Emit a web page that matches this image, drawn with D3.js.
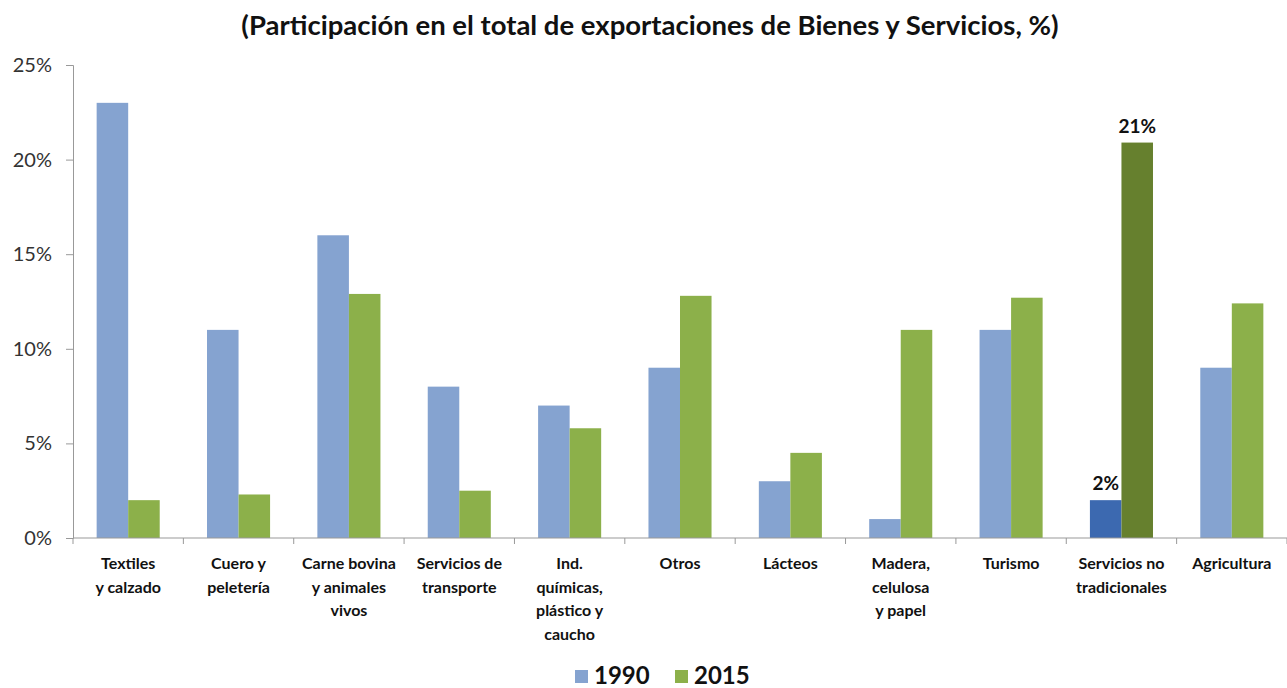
<!DOCTYPE html>
<html>
<head>
<meta charset="utf-8">
<script src="https://cdn.jsdelivr.net/npm/d3@7"></script>
<style>
  body { margin: 0; background: #fff; }
  svg { display: block; font-family: Lato, "Open Sans", sans-serif; }
</style>
</head>
<body>
<div id="chart"></div>
<script>
// Participación en exportaciones, 1990 vs 2015
const categories = [
  ["Textiles", "y calzado"],
  ["Cuero y", "peletería"],
  ["Carne bovina", "y animales", "vivos"],
  ["Servicios de", "transporte"],
  ["Ind.", "químicas,", "plástico y", "caucho"],
  ["Otros"],
  ["Lácteos"],
  ["Madera,", "celulosa", "y papel"],
  ["Turismo"],
  ["Servicios no", "tradicionales"],
  ["Agricultura"]
];
const values1990 = [23.0, 11.0, 16.0, 8.0, 7.0, 9.0, 3.0, 1.0, 11.0, 2.0, 9.0];
const values2015 = [2.0, 2.3, 12.9, 2.5, 5.8, 12.8, 4.5, 11.0, 12.7, 20.9, 12.4];
const seriesNames = ["1990", "2015"];
const yTicks = [0, 5, 10, 15, 20, 25];
const highlightIndex = 9;

const width = 1287, height = 688;
const margin = { top: 65, right: 0, bottom: 150, left: 73 };
const innerW = width - margin.left - margin.right;
const innerH = height - margin.top - margin.bottom;

const colors = { "1990": "#85a3d0", "2015": "#8cb04a" };
const hiColors = { "1990": "#3c69b0", "2015": "#66802e" };

const svg = d3.select("#chart").append("svg")
  .attr("width", width)
  .attr("height", height);

svg.append("text")
  .attr("x", 650)
  .attr("y", 35)
  .attr("text-anchor", "middle")
  .attr("font-size", "27.5px")
  .attr("font-weight", "bold")
  .attr("fill", "#111")
  .text("(Participación en el total de exportaciones de Bienes y Servicios, %)");

const g = svg.append("g")
  .attr("transform", `translate(${margin.left},${margin.top})`);

const x = d3.scaleBand()
  .domain(d3.range(categories.length))
  .range([0, innerW]);

const x1 = d3.scaleBand()
  .domain(seriesNames)
  .range([0, x.bandwidth()])
  .paddingInner(0)
  .paddingOuter(0.75);

const y = d3.scaleLinear()
  .domain([0, 25])
  .range([innerH, 0]);

// y axis
const yAxis = g.append("g")
  .call(d3.axisLeft(y).tickValues(yTicks).tickSize(7).tickPadding(14)
    .tickFormat(d => d + "%"));
yAxis.select(".domain").attr("stroke", "#999");
yAxis.selectAll(".tick line").attr("stroke", "#999");
yAxis.selectAll("text")
  .attr("font-size", "20px")
  .attr("fill", "#333")
  .attr("font-family", "Lato, sans-serif");

// bars
const rows = categories.map((c, i) => ({
  i,
  vals: [
    { key: "1990", v: values1990[i] },
    { key: "2015", v: values2015[i] }
  ]
}));

const groups = g.selectAll(".grp")
  .data(rows)
  .enter()
  .append("g")
  .attr("class", "grp")
  .attr("transform", d => `translate(${x(d.i)},0)`);

groups.selectAll("rect")
  .data(d => d.vals.map(v => ({ ...v, i: d.i })))
  .enter()
  .append("rect")
  .attr("x", d => x1(d.key))
  .attr("y", d => y(d.v))
  .attr("width", x1.bandwidth())
  .attr("height", d => innerH - y(d.v))
  .attr("fill", d => d.i === highlightIndex ? hiColors[d.key] : colors[d.key]);

// labels on highlighted bars
groups.filter(d => d.i === highlightIndex)
  .selectAll(".lbl")
  .data(d => d.vals)
  .enter()
  .append("text")
  .attr("class", "lbl")
  .attr("x", d => x1(d.key) + x1.bandwidth() / 2)
  .attr("y", d => y(d.v) - 10)
  .attr("text-anchor", "middle")
  .attr("font-size", "19px")
  .attr("font-weight", "bold")
  .attr("fill", "#111")
  .text(d => Math.round(d.v) + "%");

// x axis
const xAxisG = g.append("g")
  .attr("transform", `translate(0,${innerH})`);
xAxisG.append("line")
  .attr("x1", 0).attr("x2", innerW)
  .attr("stroke", "#999");
xAxisG.selectAll(".xt")
  .data(d3.range(categories.length + 1))
  .enter()
  .append("line")
  .attr("x1", i => i * x.step())
  .attr("x2", i => i * x.step())
  .attr("y1", 0).attr("y2", 6)
  .attr("stroke", "#999");

const labels = xAxisG.selectAll(".xl")
  .data(categories)
  .enter()
  .append("text")
  .attr("class", "xl")
  .attr("text-anchor", "middle")
  .attr("font-size", "16px")
  .attr("font-weight", "bold")
  .attr("fill", "#111")
  .attr("transform", (d, i) => `translate(${x(i) + x.bandwidth() / 2},31)`);
labels.selectAll("tspan")
  .data(d => d)
  .enter()
  .append("tspan")
  .attr("x", 0)
  .attr("dy", (d, j) => j === 0 ? 0 : 23.5)
  .text(d => d);

// legend
const legend = svg.append("g")
  .attr("transform", "translate(575,670)");
const legendItems = legend.selectAll("g")
  .data(seriesNames)
  .enter()
  .append("g")
  .attr("transform", (d, i) => `translate(${i * 100},0)`);
legendItems.append("rect")
  .attr("width", 13).attr("height", 13)
  .attr("fill", d => colors[d]);
legendItems.append("text")
  .attr("x", 19)
  .attr("y", 14)
  .attr("font-size", "24px")
  .attr("font-weight", "bold")
  .attr("fill", "#111")
  .text(d => d);
</script>
</body>
</html>
